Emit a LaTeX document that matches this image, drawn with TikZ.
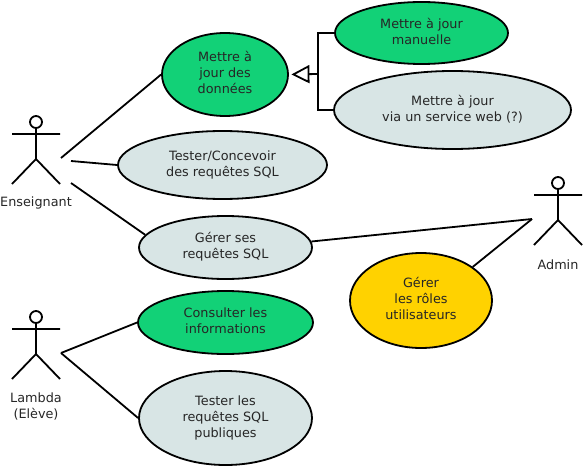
\documentclass[tikz,border=0pt]{standalone}
\usepackage{fontspec}
\setmainfont{DejaVu Sans}
\usetikzlibrary{arrows.meta,shapes.geometric}
\definecolor{w_green}{HTML}{12D177}
\definecolor{w_grey}{HTML}{D8E5E5}
\definecolor{w_yellow}{HTML}{FFD200}
\tikzset{
usecase/.style={ellipse,draw=black,line width=1.8pt,inner sep=0pt,align=center,font=\fontsize{12.8}{16}\selectfont,text=black!85,text depth=3.5pt},
actorlabel/.style={align=center,font=\fontsize{12.8}{16}\selectfont,text=black!85},
link/.style={draw,line width=1.8pt},
actor/.pic={
\draw[line width=1.8pt] (0,-12) circle (6);
\draw[line width=1.8pt] (-24,0) -- (24,0) (0,-6) -- (0,25) (-24,50) -- (0,25) -- (24,50);
}}
\begin{document}
\begin{tikzpicture}[x=1pt,y=-1pt]
\useasboundingbox (0,0) rectangle (585,468);
% use cases
\node[usecase,fill=w_green,minimum width=126pt,minimum height=83pt] (maj) at (225,74.5) {Mettre à\\jour des\\données};
\node[usecase,fill=w_green,minimum width=173pt,minimum height=62pt] (manuelle) at (421.5,33) {Mettre à jour\\manuelle};
\node[usecase,fill=w_grey,minimum width=237pt,minimum height=78pt] (web) at (452.5,110) {Mettre à jour\\via un service web (?)};
\node[usecase,fill=w_grey,minimum width=209pt,minimum height=68pt] (tester) at (222.5,165) {Tester/Concevoir\\des requêtes SQL};
\node[usecase,fill=w_grey,minimum width=173pt,minimum height=63pt] (gerer) at (225.5,247.5) {Gérer ses\\requêtes SQL};
\node[usecase,fill=w_yellow,minimum width=142pt,minimum height=95pt] (roles) at (421,300.5) {Gérer\\les rôles\\utilisateurs};
\node[usecase,fill=w_green,minimum width=175pt,minimum height=63pt] (consulter) at (225.5,322.5) {Consulter les\\informations};
\node[usecase,fill=w_grey,minimum width=173pt,minimum height=94pt] (publiques) at (225.5,418) {Tester les\\requêtes SQL\\publiques};
% actors
\pic at (36,134) {actor};
\pic at (558,195) {actor};
\pic at (36,329) {actor};
\node[actorlabel] (ens) at (36,203) {Enseignant};
\node[actorlabel] (adm) at (558,265) {Admin};
\node[actorlabel] (lam) at (36,406) {Lambda\\(Elève)};
% free ends
\coordinate (ens1) at (61,158);
\coordinate (ens2) at (71,161);
\coordinate (ens3) at (71,183);
\coordinate (adm1) at (532,219);
\coordinate (lam1) at (61,353);
\coordinate (gen) at (318,74);
% connectors
\draw[link] (ens1) -- (maj.west);
\draw[link] (ens2) -- (tester.west);
\draw[link] (ens3) -- (gerer.171);
\draw[link] (adm1) -- (gerer.4);
\draw[link] (adm1) -- (roles.33);
\draw[link] (lam1) -- (consulter.west);
\draw[link] (lam1) -- (publiques.west);
\draw[link] (manuelle.west) -| (gen);
\draw[link] (web.west) -| (gen);
\draw[link,-{Triangle[open,length=18pt,width=18pt,line width=1.8pt]},shorten >=2.5pt] (gen) -- (maj.east);
\end{tikzpicture}
\end{document}
